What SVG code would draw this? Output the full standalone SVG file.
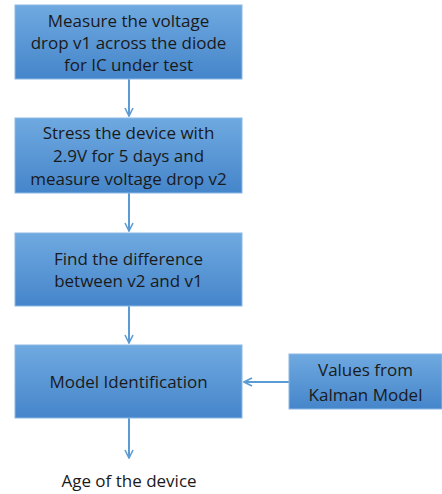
<svg xmlns="http://www.w3.org/2000/svg" width="442" height="494" viewBox="0 0 442 494">
<defs>
<linearGradient id="g" x1="0" y1="0" x2="0" y2="1">
<stop offset="0" stop-color="#6fa9e0"/>
<stop offset="1" stop-color="#4585ca"/>
</linearGradient>
<marker id="ah" viewBox="0 0 10 10" refX="9" refY="5" markerWidth="10" markerHeight="10" markerUnits="userSpaceOnUse" orient="auto">
<path d="M1,1 L9,5 L1,9" fill="none" stroke="#5b9bd5" stroke-width="1.6"/>
</marker>
</defs>
<style>
.box{fill:url(#g);stroke:#8cb8e6;stroke-width:1}
.t{font-family:"Open Sans","Liberation Sans",Arial,sans-serif;font-size:17px;fill:#1a1a1a;text-anchor:middle}
.c{stroke:#5b9bd5;stroke-width:2;fill:none;marker-end:url(#ah)}
</style>
<rect width="442" height="494" fill="#ffffff"/>
<g id="connectors">
<line class="c" x1="129" y1="79" x2="129" y2="116"/>
<line class="c" x1="129" y1="193" x2="129" y2="231"/>
<line class="c" x1="129" y1="306" x2="129" y2="343"/>
<line class="c" x1="129" y1="418" x2="129" y2="458"/>
<line class="c" x1="289" y1="382" x2="244" y2="382"/>
</g>
<g id="n1">
<rect class="box" x="15" y="5" width="227" height="74"/>
<text class="t" x="128.5" y="27">Measure the voltage</text>
<text class="t" x="128.5" y="49">drop v1 across the diode</text>
<text class="t" x="128.5" y="71">for IC under test</text>
</g>
<g id="n2">
<rect class="box" x="15" y="118" width="227" height="75"/>
<text class="t" x="128.5" y="139">Stress the device with</text>
<text class="t" x="128.5" y="162">2.9V for 5 days and</text>
<text class="t" x="128.5" y="185">measure voltage drop v2</text>
</g>
<g id="n3">
<rect class="box" x="15" y="233" width="227" height="73"/>
<text class="t" x="128.5" y="265">Find the difference</text>
<text class="t" x="128.5" y="287">between v2 and v1</text>
</g>
<g id="n4">
<rect class="box" x="15" y="345" width="227" height="73"/>
<text class="t" x="128.5" y="388">Model Identification</text>
</g>
<g id="n5">
<rect class="box" x="289" y="354" width="153" height="55"/>
<text class="t" x="365.5" y="376">Values from</text>
<text class="t" x="365.5" y="401">Kalman Model</text>
</g>
<g id="n6">
<text class="t" x="129" y="487">Age of the device</text>
</g>
</svg>
